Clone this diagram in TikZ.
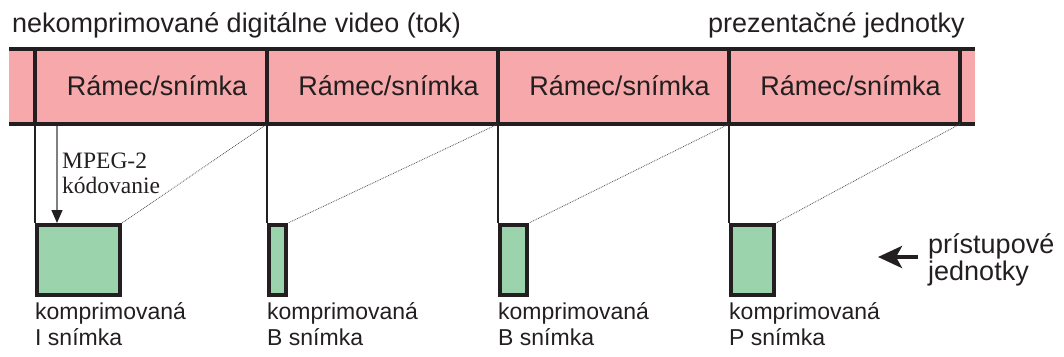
\documentclass[tikz,border=0pt]{standalone}
\usepackage{fontspec}
\setmainfont{Liberation Sans}
\newfontfamily\mpegfont{Liberation Serif}
\usepackage{tikz}
\usetikzlibrary{calc,arrows.meta}
\definecolor{ramecred}{RGB}{246,168,170}
\definecolor{snimkagreen}{RGB}{155,211,173}
\definecolor{inkblack}{RGB}{35,31,32}

\begin{document}
\begin{tikzpicture}[x=1pt,y=-1pt,inner sep=0pt,
		hrana/.style={draw=inkblack, line width=4pt},
		tenka/.style={draw=inkblack, line width=1.2pt},
		bodky/.style={draw=inkblack!80, line width=0.8pt, densely dotted},
		velky/.style={font=\fontsize{27}{27}\selectfont, text=inkblack, align=left},
		maly/.style={font=\fontsize{23}{26}\selectfont, text=inkblack, align=left}]
	\useasboundingbox (0,0) rectangle (1064,356);
	
	\coordinate (L) at (9,48.5);
	\coordinate (R) at (975,124);
	\fill[ramecred] (L) rectangle (R);
	\draw[hrana] (L) -- (L -| R);
	\draw[hrana] (L |- R) -- (R);
	\foreach \n/\x in {1/35,2/267,3/498,4/729,5/960}{
		\coordinate (T\n) at (\x,48.5);
		\coordinate (B\n) at (\x,124);
		\draw[hrana] (T\n) -- (B\n);
	}
	\foreach \n/\x in {1/157,2/388.5,3/619.5,4/850.5}
		\node[velky, anchor=base] (ramec\n) at (\x,95) {Rámec/snímka};
	
	\foreach \n/\x/\w/\typ in {1/35/87/I,2/267/21/B,3/498/31/B,4/729/47/P}{
		\coordinate (K\n) at (\x,223);
		\coordinate (S\n) at (\x+\w,223);
		\draw[hrana, fill=snimkagreen] ($(K\n)+(2,2)$) rectangle ($(S\n)+(-2,72)$);
		\node[maly, anchor=base west] (popis\n) at (\x,345) {komprimovaná\\\typ{} snímka};
	}
	\foreach \n/\m in {1/2,2/3,3/4,4/5}{
		\draw[tenka] (B\n) -- (K\n);
		\draw[bodky] (B\m) -- (S\n);
	}
	
	\coordinate (M0) at (57,126);
	\coordinate (M1) at (57,223);
	\draw[draw=gray, line width=1.2pt, -{Triangle[length=13pt,width=11pt,color=inkblack]}] (M0) -- (M1);
	\node[font=\mpegfont\fontsize{23.5}{25}\selectfont, text=inkblack, align=left, anchor=base west] (kod) at (62,193) {MPEG-2\\kódovanie};
	
	\node[velky, anchor=base west] (tok) at (12,32) {nekomprimované digitálne video (tok)};
	\node[velky, anchor=base east] (prez) at (965,32) {prezentačné jednotky};
	\node[velky, anchor=base west] (pristup) at (928,280) {prístupové\\jednotky};
	\coordinate (P0) at (918,257);
	\coordinate (P1) at (878,257);
	\draw[inkblack, line width=4pt, -{Stealth[length=24pt,width=22pt,inset=6pt]}] (P0) -- (P1);
\end{tikzpicture}
\end{document}
